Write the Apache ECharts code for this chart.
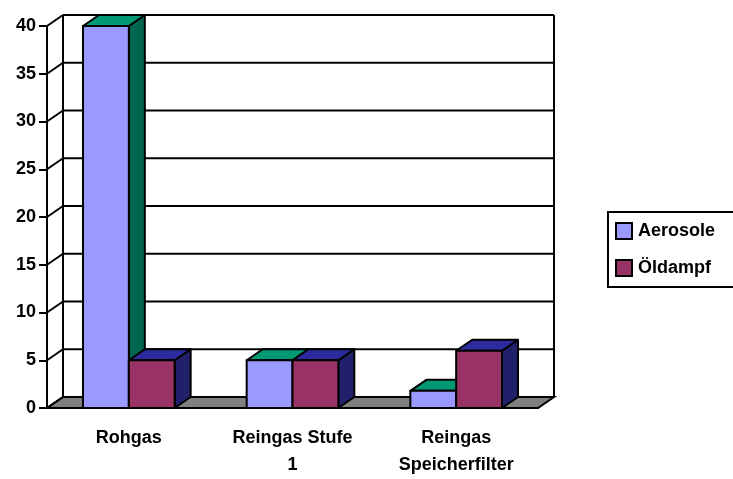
<!DOCTYPE html>
<html>
<head>
<meta charset="utf-8">
<script src="https://cdn.jsdelivr.net/npm/echarts@6/dist/echarts.min.js"></script>
<style>
  html, body { margin: 0; padding: 0; background: #fff; }
  #chart { width: 733px; height: 479px; }
</style>
</head>
<body>
<div id="chart"></div>
<script>
  const categories = ['Rohgas', 'Reingas Stufe\n1', 'Reingas\nSpeicherfilter']
  const aerosole = [40, 5, 1.8]
  const oeldampf = [5, 5, 6]
  const yTicks = [0, 5, 10, 15, 20, 25, 30, 35, 40]

  // depth offset of the fake 3d
  const DX = 16
  const DY = -11
  const font = 'Arial, "Liberation Sans", sans-serif'

  const faces = [
    { front: '#9999ff', top: '#009973', side: '#006650' },
    { front: '#993366', top: '#2b2b9e', side: '#20206b' }
  ]

  function barItem (seriesIdx) {
    return function (params, api) {
      const i = api.value(0)
      const v = api.value(1)
      const base = api.coord([i, 0])
      const top = api.coord([i, v])
      const bw = api.size([1, 0])[0] * 0.28
      const x0 = seriesIdx === 0 ? base[0] - bw : base[0]
      const x1 = x0 + bw
      const yb = base[1]
      const yt = top[1]
      const c = faces[seriesIdx]
      const st = { stroke: '#000', lineWidth: 2, lineJoin: 'round' }
      return {
        type: 'group',
        children: [
          { type: 'polygon', shape: { points: [[x1, yt], [x1 + DX, yt + DY], [x1 + DX, yb + DY], [x1, yb]] }, style: Object.assign({ fill: c.side }, st) },
          { type: 'polygon', shape: { points: [[x0, yt], [x1, yt], [x1 + DX, yt + DY], [x0 + DX, yt + DY]] }, style: Object.assign({ fill: c.top }, st) },
          { type: 'rect', shape: { x: x0, y: yt, width: bw, height: yb - yt }, style: Object.assign({ fill: c.front }, st) }
        ]
      }
    }
  }

  const option = {
    animation: false,
    backgroundColor: '#fff',
    grid: { left: 47, right: 195, top: 26, bottom: 65 },
    legend: {
      data: ['Aerosole', 'Öldampf'],
      orient: 'vertical',
      left: 608,
      top: 212,
      padding: [10, 40, 10, 7],
      itemGap: 19,
      itemWidth: 16,
      itemHeight: 16,
      icon: 'rect',
      borderColor: '#000',
      borderWidth: 2,
      borderRadius: 0,
      textStyle: { color: '#000', fontWeight: 'bold', fontSize: 18, fontFamily: font, padding: [0, 0, 0, 1] }
    },
    xAxis: {
      type: 'category',
      data: categories,
      axisLine: { lineStyle: { color: '#000', width: 2 } },
      axisTick: { length: 10, lineStyle: { color: '#000', width: 2 } },
      axisLabel: { color: '#000', fontWeight: 'bold', fontSize: 18, fontFamily: font, margin: 17, lineHeight: 27 },
      splitLine: { show: false }
    },
    yAxis: {
      type: 'value',
      min: 0,
      max: 40,
      interval: 5,
      axisLine: { show: true, lineStyle: { color: '#000', width: 2 } },
      axisTick: { show: true, length: 8, lineStyle: { color: '#000', width: 2 } },
      axisLabel: { color: '#000', fontWeight: 'bold', fontSize: 18, fontFamily: font, margin: 11 },
      splitLine: { show: false }
    },
    series: [
      {
        // floor and back wall edges
        type: 'custom',
        name: 'floor',
        silent: true,
        data: [[0, 0]],
        renderItem: function (params, api) {
          const cs = params.coordSys
          const y0 = api.coord([0, 0])[1]
          const y40 = api.coord([0, 40])[1]
          const l = cs.x
          const r = cs.x + cs.width
          return {
            type: 'group',
            children: [
              { type: 'polygon', shape: { points: [[l, y0], [r, y0], [r + DX, y0 + DY], [l + DX, y0 + DY]] }, style: { fill: '#808080', stroke: '#000', lineWidth: 2 } },
              { type: 'line', shape: { x1: l + DX, y1: y40 + DY, x2: l + DX, y2: y0 + DY }, style: { stroke: '#000', lineWidth: 2 } },
              { type: 'line', shape: { x1: r + DX, y1: y40 + DY, x2: r + DX, y2: y0 + DY }, style: { stroke: '#000', lineWidth: 2 } }
            ]
          }
        }
      },
      {
        // grid lines on side wall and back wall
        type: 'custom',
        name: 'wall',
        silent: true,
        data: yTicks.map(t => [0, t]),
        renderItem: function (params, api) {
          const cs = params.coordSys
          const y = api.coord([0, api.value(1)])[1]
          const l = cs.x
          const r = cs.x + cs.width
          return {
            type: 'group',
            children: [
              { type: 'line', shape: { x1: l, y1: y, x2: l + DX, y2: y + DY }, style: { stroke: '#000', lineWidth: 2 } },
              { type: 'line', shape: { x1: l + DX, y1: y + DY, x2: r + DX, y2: y + DY }, style: { stroke: '#000', lineWidth: 2 } }
            ]
          }
        }
      },
      {
        type: 'custom',
        name: 'Aerosole',
        itemStyle: { color: faces[0].front, borderColor: '#000', borderWidth: 1.5 },
        data: aerosole.map((v, i) => [i, v]),
        renderItem: barItem(0)
      },
      {
        type: 'custom',
        name: 'Öldampf',
        itemStyle: { color: faces[1].front, borderColor: '#000', borderWidth: 1.5 },
        data: oeldampf.map((v, i) => [i, v]),
        renderItem: barItem(1)
      }
    ]
  }

  const chart = echarts.init(document.getElementById('chart'))
  chart.setOption(option)
</script>
</body>
</html>
